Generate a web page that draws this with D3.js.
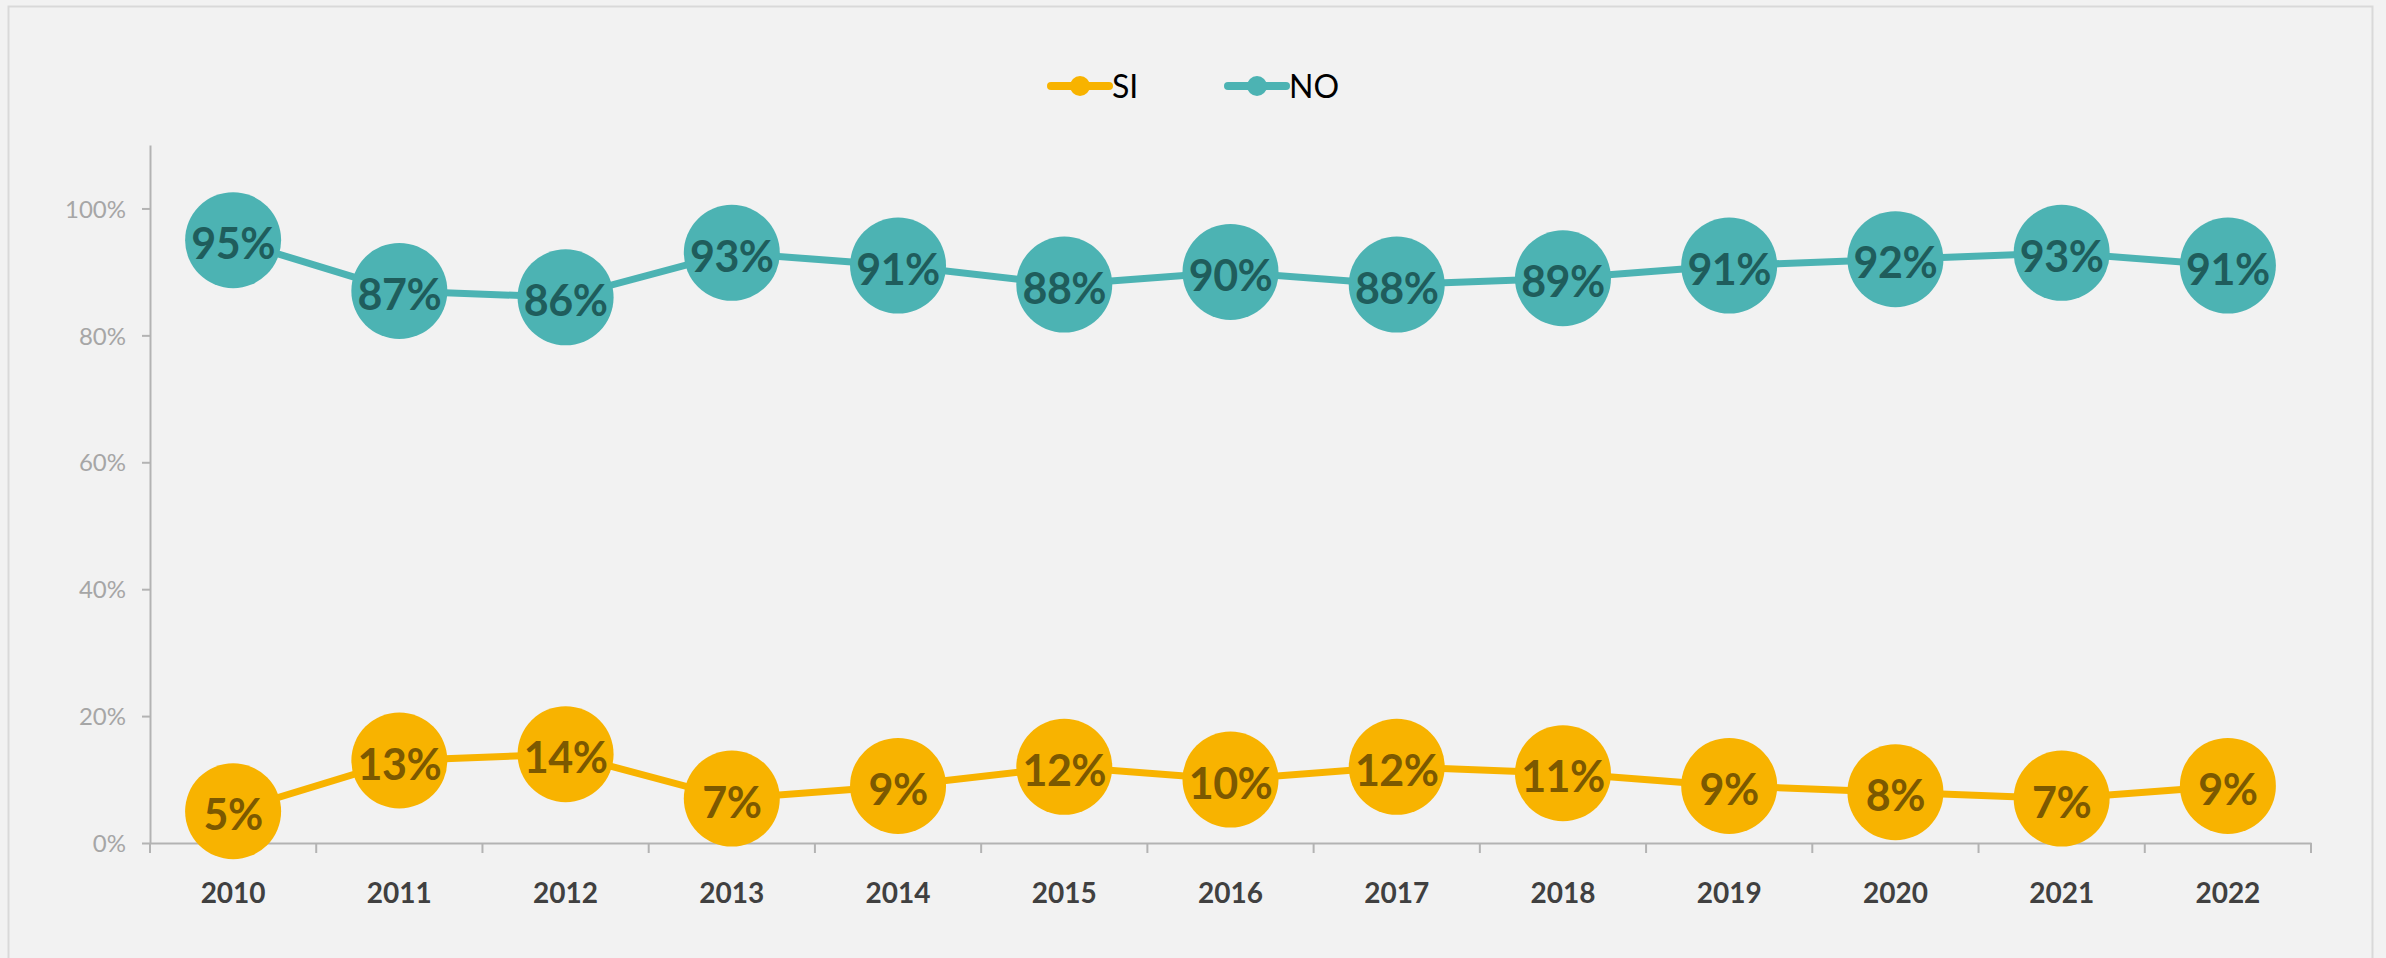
<!DOCTYPE html>
<html>
<head>
<meta charset="utf-8">
<script src="https://cdn.jsdelivr.net/npm/d3@7"></script>
<style>
  html, body { margin: 0; padding: 0; background: #f2f2f2; }
  svg { display: block; }
</style>
</head>
<body>
<div id="chart"></div>
<script>
// data
const years = ["2010", "2011", "2012", "2013", "2014", "2015", "2016", "2017", "2018", "2019", "2020", "2021", "2022"];
const si = [5, 13, 14, 7, 9, 12, 10, 12, 11, 9, 8, 7, 9];
const no = [95, 87, 86, 93, 91, 88, 90, 88, 89, 91, 92, 93, 91];
const yTicks = [0, 20, 40, 60, 80, 100];

const series = [
  { name: "SI", values: si, color: "#f8b300", label: "#7c5900" },
  { name: "NO", values: no, color: "#4cb3b3", label: "#1f5d5c" }
];

const FONT = "Lato, 'Open Sans', sans-serif";

function drawChart() {
  const W = 2386, H = 958;
  const margin = { top: 145, right: 75, bottom: 115, left: 150 };
  const width = W - margin.left - margin.right,
    height = H - margin.top - margin.bottom;

  const root = d3.select("#chart").append("svg")
    .attr("width", W)
    .attr("height", H)
    .style("font-family", FONT);

  // chart frame
  root.append("rect")
    .attr("x", 8.5).attr("y", 6.5)
    .attr("width", 2364).attr("height", 1000)
    .attr("fill", "#f2f2f2")
    .attr("stroke", "#d9d9d9")
    .attr("stroke-width", 2);

  const svg = root.append("g")
    .attr("transform", `translate(${margin.left},${margin.top})`);

  const x = d3.scaleBand().domain(years).range([0, width]).padding(0);
  const y = d3.scaleLinear().domain([0, 110]).range([height, 0]);

  // Y axis
  const yAxis = svg.append("g")
    .call(d3.axisLeft(y).tickValues(yTicks).tickSize(8).tickSizeOuter(0).tickPadding(16).tickFormat(d => d + "%"));
  yAxis.attr("font-family", FONT);
  yAxis.select(".domain").attr("stroke", "#b3b3b3").attr("stroke-width", 2);
  yAxis.selectAll(".tick line").attr("stroke", "#b3b3b3").attr("stroke-width", 2);
  yAxis.selectAll(".tick text")
    .attr("fill", "#a6a6a6")
    .style("font-size", "24px")
    .attr("dy", "0.36em");

  // X axis: labels on band centres, ticks on band edges
  const xAxis = svg.append("g")
    .attr("transform", `translate(0,${height})`)
    .call(d3.axisBottom(x).tickSize(0).tickPadding(40));
  xAxis.attr("font-family", FONT);
  xAxis.select(".domain").attr("stroke", "#b3b3b3").attr("stroke-width", 2);
  xAxis.selectAll(".tick text")
    .attr("fill", "#404040")
    .style("font-size", "28px")
    .style("font-weight", "bold");
  const edges = years.map(d => x(d)).concat([x(years[years.length - 1]) + x.bandwidth()]);
  xAxis.selectAll(".edge")
    .data(edges)
    .join("line")
    .attr("x1", d => d).attr("x2", d => d)
    .attr("y1", 0).attr("y2", 10)
    .attr("stroke", "#b3b3b3")
    .attr("stroke-width", 2);

  const cx = (i) => x(years[i]) + x.bandwidth() / 2;
  const line = d3.line().x((d, i) => cx(i)).y(d => y(d));

  series.forEach(s => {
    svg.append("path")
      .datum(s.values)
      .attr("fill", "none")
      .attr("stroke", s.color)
      .attr("stroke-width", 7)
      .attr("d", line);

    const g = svg.append("g");
    g.selectAll("circle")
      .data(s.values)
      .join("circle")
      .attr("cx", (d, i) => cx(i))
      .attr("cy", d => y(d))
      .attr("r", 48)
      .attr("fill", s.color);
    g.selectAll("text")
      .data(s.values)
      .join("text")
      .attr("x", (d, i) => cx(i))
      .attr("y", d => y(d) + 19)
      .attr("text-anchor", "middle")
      .attr("fill", s.label)
      .style("font-size", "43px")
      .style("font-weight", "bold")
      .style("letter-spacing", "-0.5px")
      .text(d => d + "%");
  });

  // legend
  const legend = root.append("g");
  const lx = [1051, 1228];
  series.forEach((s, i) => {
    const item = legend.append("g").attr("transform", `translate(${lx[i]},86)`);
    item.append("line")
      .attr("x1", 0).attr("x2", 58)
      .attr("stroke", s.color)
      .attr("stroke-width", 8)
      .attr("stroke-linecap", "round");
    item.append("circle").attr("cx", 29).attr("r", 10).attr("fill", s.color);
    item.append("text")
      .attr("x", 61).attr("y", 12)
      .attr("fill", "#000")
      .style("font-size", "32px")
      .text(s.name);
  });
}

drawChart();
</script>
</body>
</html>
